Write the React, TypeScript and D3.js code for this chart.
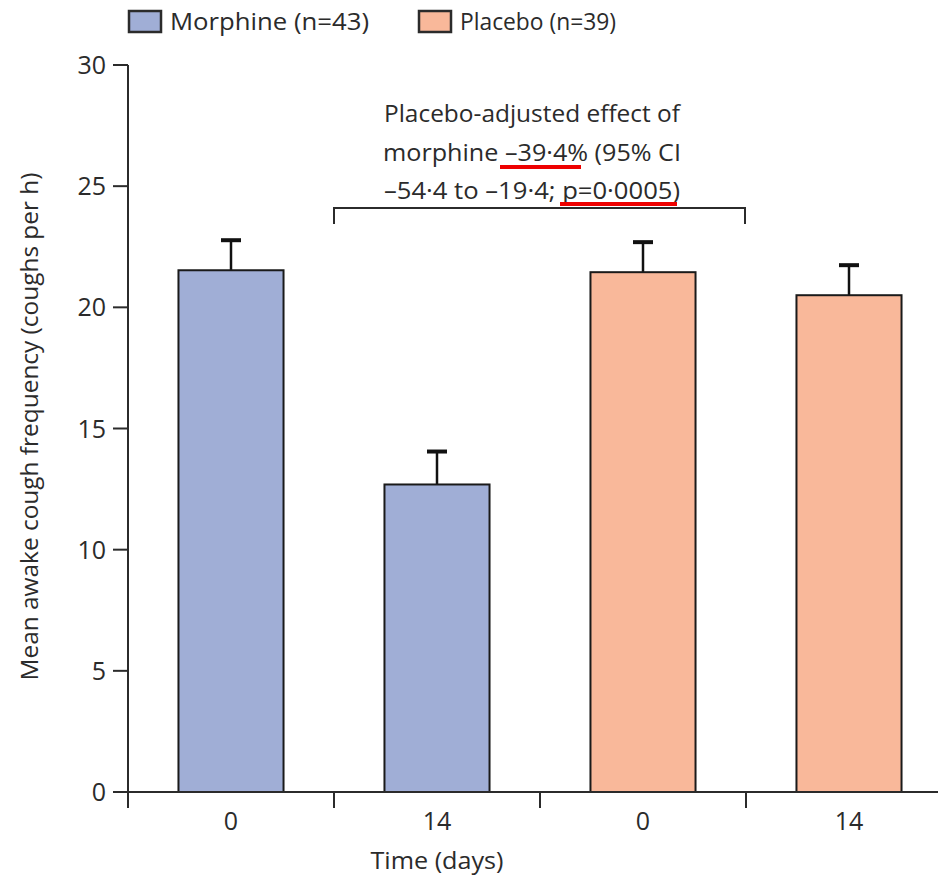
import React from "react";
import * as d3 from "d3";

const groups = ["Morphine", "Morphine", "Placebo", "Placebo"];
const dayLabels = ["0", "14", "0", "14"];
const means = [21.53, 12.69, 21.45, 20.5];
const upperErr = [22.77, 14.05, 22.69, 21.74];
const yTicks = [0, 5, 10, 15, 20, 25, 30];
const legendItems = [
  { name: "Morphine (n=43)", group: "Morphine" },
  { name: "Placebo (n=39)", group: "Placebo" },
];
const annotationLines = [
  "Placebo-adjusted effect of",
  "morphine \u201339\u00b74% (95% CI",
  "\u201354\u00b74 to \u201319\u00b74; p=0\u00b70005)",
];

const W = 938;
const H = 880;
const FONT = "'Open Sans', 'DejaVu Sans', sans-serif";
const INK = "#2b2b2b";
const colors: Record<string, string> = { Morphine: "#a0aed6", Placebo: "#f9b89a" };

export default function App() {
  const y = d3.scaleLinear().domain([0, 30]).range([792, 65]);
  const idx = d3.range(groups.length).map(String);
  const x = d3.scaleBand().domain(idx).range([128, 952]).paddingInner(0.49).paddingOuter(0.245);
  const step = x.step();
  const bandEdges = d3.range(groups.length + 1).map((i) => 128 + i * step);

  return (
    <svg width={W} height={H} style={{ display: "block", position: "absolute", left: 0, top: 0 }} fontFamily={FONT}>
      <rect width={W} height={H} fill="#fff" />
      {/* legend */}
      {legendItems.map((d, i) => {
        const lx = i === 0 ? 129 : 419;
        return (
          <g key={d.name}>
            <rect x={lx} y={11} width={32} height={21} fill={colors[d.group]} stroke={INK} strokeWidth={2.5} />
            <text x={lx + 41} y={30} fontSize={24} textLength={i === 0 ? 199 : 156} lengthAdjust="spacingAndGlyphs" fill={INK}>{d.name}</text>
          </g>
        );
      })}

      {/* bars with upper error whiskers */}
      {means.map((m, i) => {
        const bx = x(String(i))!;
        const bw = x.bandwidth();
        const cx = bx + bw / 2;
        return (
          <g key={i}>
            <line x1={cx} x2={cx} y1={y(m)} y2={y(upperErr[i])} stroke="#111" strokeWidth={2.5} />
            <line x1={cx - 10} x2={cx + 10} y1={y(upperErr[i])} y2={y(upperErr[i])} stroke="#111" strokeWidth={4} />
            <rect x={bx} y={y(m)} width={bw} height={y(0) - y(m)} fill={colors[groups[i]]} stroke="#1a1a1a" strokeWidth={2} />
          </g>
        );
      })}

      {/* y axis */}
      <line x1={128} x2={128} y1={y(30)} y2={y(0)} stroke={INK} strokeWidth={2} />
      {yTicks.map((t) => (
        <g key={t}>
          <line x1={113} x2={128} y1={y(t)} y2={y(t)} stroke={INK} strokeWidth={2} />
          <text x={106} y={y(t)} dy="0.36em" textAnchor="end" fontSize={25} fill={INK}>{t}</text>
        </g>
      ))}
      <text transform={`translate(38, ${y(15) - 2}) rotate(-90)`} textAnchor="middle" fontSize={24} textLength={508} lengthAdjust="spacingAndGlyphs" fill={INK}>
        Mean awake cough frequency (coughs per h)
      </text>

      {/* x axis */}
      <line x1={128} x2={952} y1={y(0)} y2={y(0)} stroke={INK} strokeWidth={2} />
      {bandEdges.map((e, i) => (
        <line key={i} x1={e} x2={e} y1={y(0)} y2={y(0) + 16} stroke={INK} strokeWidth={2} />
      ))}
      {dayLabels.map((l, i) => (
        <text key={i} x={x(String(i))! + x.bandwidth() / 2} y={830} textAnchor="middle" fontSize={25} fill={INK}>{l}</text>
      ))}
      <text x={437} y={869} textAnchor="middle" fontSize={24} textLength={133} lengthAdjust="spacingAndGlyphs" fill={INK}>Time (days)</text>

      {/* comparison bracket and effect annotation */}
      <path d={`M${bandEdges[1]},224 V208 H${bandEdges[3] - 1} V224`} fill="none" stroke={INK} strokeWidth={2} />
      {annotationLines.map((l, i) => (
        <text key={i} x={532} y={122 + i * 38.5} textAnchor="middle" fontSize={24.5} textLength={[296, 298, 296][i]} lengthAdjust="spacingAndGlyphs" fill={INK}>{l}</text>
      ))}
      <line x1={500} x2={581} y1={167} y2={167} stroke="#ee0000" strokeWidth={4} />
      <line x1={560} x2={677} y1={204} y2={204} stroke="#ee0000" strokeWidth={4} />
    </svg>
  );
}
